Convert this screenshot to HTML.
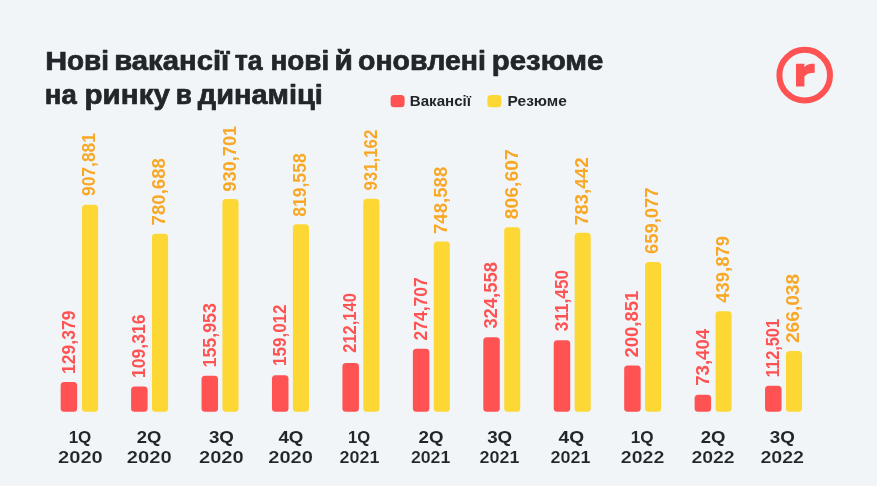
<!DOCTYPE html>
<html lang="uk"><head><meta charset="utf-8"><title>chart</title>
<style>
html,body{margin:0;padding:0;background:#F1F5F8;}
body{width:877px;height:486px;overflow:hidden;}
svg{display:block;font-family:"Liberation Sans",sans-serif;will-change:transform;}
</style></head><body>
<svg width="877" height="486" viewBox="0 0 877 486">
<rect x="0" y="0" width="877" height="486" fill="#F1F5F8"/>
<text id="t1_0" x="45.30" y="69.5" font-size="25.6" font-weight="700" fill="#22262A" stroke="#22262A" stroke-width="0.7" stroke-linejoin="round" textLength="21.90" lengthAdjust="spacingAndGlyphs">Н</text>
<text id="t1_1" x="67.04" y="69.5" font-size="26.9" font-weight="700" fill="#22262A" stroke="#22262A" stroke-width="0.7" stroke-linejoin="round" textLength="41.99" lengthAdjust="spacingAndGlyphs">ові</text>
<text id="t1_2" x="114.22" y="69.5" font-size="26.9" font-weight="700" fill="#22262A" stroke="#22262A" stroke-width="0.7" stroke-linejoin="round" textLength="115.06" lengthAdjust="spacingAndGlyphs">вакансії</text>
<text id="t1_3" x="234.70" y="69.5" font-size="26.9" font-weight="700" fill="#22262A" stroke="#22262A" stroke-width="0.7" stroke-linejoin="round" textLength="27.82" lengthAdjust="spacingAndGlyphs">та</text>
<text id="t1_4" x="270.50" y="69.5" font-size="26.9" font-weight="700" fill="#22262A" stroke="#22262A" stroke-width="0.7" stroke-linejoin="round" textLength="58.65" lengthAdjust="spacingAndGlyphs">нові</text>
<text id="t1_5" x="334.41" y="69.5" font-size="26.9" font-weight="700" fill="#22262A" stroke="#22262A" stroke-width="0.7" stroke-linejoin="round" textLength="18.36" lengthAdjust="spacingAndGlyphs">й</text>
<text id="t1_6" x="357.98" y="69.5" font-size="26.9" font-weight="700" fill="#22262A" stroke="#22262A" stroke-width="0.7" stroke-linejoin="round" textLength="127.91" lengthAdjust="spacingAndGlyphs">оновлені</text>
<text id="t1_7" x="491.72" y="69.5" font-size="26.9" font-weight="700" fill="#22262A" stroke="#22262A" stroke-width="0.7" stroke-linejoin="round" textLength="111.72" lengthAdjust="spacingAndGlyphs">резюме</text>
<text id="t2_0" x="44.88" y="103.7" font-size="26.9" font-weight="700" fill="#22262A" stroke="#22262A" stroke-width="0.7" stroke-linejoin="round" textLength="31.89" lengthAdjust="spacingAndGlyphs">на</text>
<text id="t2_1" x="84.57" y="103.7" font-size="26.9" font-weight="700" fill="#22262A" stroke="#22262A" stroke-width="0.7" stroke-linejoin="round" textLength="85.34" lengthAdjust="spacingAndGlyphs">ринку</text>
<text id="t2_2" x="175.76" y="103.7" font-size="26.9" font-weight="700" fill="#22262A" stroke="#22262A" stroke-width="0.7" stroke-linejoin="round" textLength="16.08" lengthAdjust="spacingAndGlyphs">в</text>
<text id="t2_3" x="197.88" y="103.7" font-size="26.9" font-weight="700" fill="#22262A" stroke="#22262A" stroke-width="0.7" stroke-linejoin="round" textLength="124.94" lengthAdjust="spacingAndGlyphs">динаміці</text>
<text id="lg0" x="409.80" y="106.1" font-size="14.6" font-weight="700" fill="#22262A" textLength="61.28" lengthAdjust="spacingAndGlyphs">Вакансії</text>
<text id="lg1" x="507.63" y="106.1" font-size="14.6" font-weight="700" fill="#22262A" textLength="59.20" lengthAdjust="spacingAndGlyphs">Резюме</text>
<text id="q0" x="68.66" y="442.6" font-size="15.7" font-weight="700" fill="#22262A" textLength="22.61" lengthAdjust="spacingAndGlyphs">1Q</text>
<text id="yr0" x="58.02" y="462.7" font-size="15.7" font-weight="700" fill="#22262A" stroke="#F1F5F8" stroke-width="0.12" stroke-linejoin="round" textLength="44.76" lengthAdjust="spacingAndGlyphs">2020</text>
<text id="q1" x="136.86" y="442.6" font-size="15.7" font-weight="700" fill="#22262A" textLength="24.56" lengthAdjust="spacingAndGlyphs">2Q</text>
<text id="yr1" x="126.78" y="462.7" font-size="15.7" font-weight="700" fill="#22262A" stroke="#F1F5F8" stroke-width="0.12" stroke-linejoin="round" textLength="44.93" lengthAdjust="spacingAndGlyphs">2020</text>
<text id="q2" x="208.94" y="442.6" font-size="15.7" font-weight="700" fill="#22262A" textLength="25.00" lengthAdjust="spacingAndGlyphs">3Q</text>
<text id="yr2" x="198.98" y="462.7" font-size="15.7" font-weight="700" fill="#22262A" stroke="#F1F5F8" stroke-width="0.12" stroke-linejoin="round" textLength="44.72" lengthAdjust="spacingAndGlyphs">2020</text>
<text id="q3" x="278.45" y="442.6" font-size="15.7" font-weight="700" fill="#22262A" textLength="25.01" lengthAdjust="spacingAndGlyphs">4Q</text>
<text id="yr3" x="268.21" y="462.7" font-size="15.7" font-weight="700" fill="#22262A" stroke="#F1F5F8" stroke-width="0.12" stroke-linejoin="round" textLength="44.73" lengthAdjust="spacingAndGlyphs">2020</text>
<text id="q4" x="348.11" y="442.6" font-size="15.7" font-weight="700" fill="#22262A" textLength="22.18" lengthAdjust="spacingAndGlyphs">1Q</text>
<text id="yr4" x="339.50" y="462.7" font-size="15.7" font-weight="700" fill="#22262A" stroke="#F1F5F8" stroke-width="0.12" stroke-linejoin="round" textLength="39.94" lengthAdjust="spacingAndGlyphs">2021</text>
<text id="q5" x="418.64" y="442.6" font-size="15.7" font-weight="700" fill="#22262A" textLength="24.87" lengthAdjust="spacingAndGlyphs">2Q</text>
<text id="yr5" x="410.90" y="462.7" font-size="15.7" font-weight="700" fill="#22262A" stroke="#F1F5F8" stroke-width="0.12" stroke-linejoin="round" textLength="39.45" lengthAdjust="spacingAndGlyphs">2021</text>
<text id="q6" x="487.16" y="442.6" font-size="15.7" font-weight="700" fill="#22262A" textLength="25.00" lengthAdjust="spacingAndGlyphs">3Q</text>
<text id="yr6" x="479.50" y="462.7" font-size="15.7" font-weight="700" fill="#22262A" stroke="#F1F5F8" stroke-width="0.12" stroke-linejoin="round" textLength="39.94" lengthAdjust="spacingAndGlyphs">2021</text>
<text id="q7" x="558.49" y="442.6" font-size="15.7" font-weight="700" fill="#22262A" textLength="25.54" lengthAdjust="spacingAndGlyphs">4Q</text>
<text id="yr7" x="550.50" y="462.7" font-size="15.7" font-weight="700" fill="#22262A" stroke="#F1F5F8" stroke-width="0.12" stroke-linejoin="round" textLength="39.94" lengthAdjust="spacingAndGlyphs">2021</text>
<text id="q8" x="630.70" y="442.6" font-size="15.7" font-weight="700" fill="#22262A" textLength="22.82" lengthAdjust="spacingAndGlyphs">1Q</text>
<text id="yr8" x="620.81" y="462.7" font-size="15.7" font-weight="700" fill="#22262A" stroke="#F1F5F8" stroke-width="0.12" stroke-linejoin="round" textLength="43.51" lengthAdjust="spacingAndGlyphs">2022</text>
<text id="q9" x="700.72" y="442.6" font-size="15.7" font-weight="700" fill="#22262A" textLength="24.77" lengthAdjust="spacingAndGlyphs">2Q</text>
<text id="yr9" x="691.42" y="462.7" font-size="15.7" font-weight="700" fill="#22262A" stroke="#F1F5F8" stroke-width="0.12" stroke-linejoin="round" textLength="43.28" lengthAdjust="spacingAndGlyphs">2022</text>
<text id="q10" x="769.71" y="442.6" font-size="15.7" font-weight="700" fill="#22262A" textLength="25.08" lengthAdjust="spacingAndGlyphs">3Q</text>
<text id="yr10" x="760.42" y="462.7" font-size="15.7" font-weight="700" fill="#22262A" stroke="#F1F5F8" stroke-width="0.12" stroke-linejoin="round" textLength="43.59" lengthAdjust="spacingAndGlyphs">2022</text>
<rect x="390.6" y="95" width="14" height="12.2" rx="3.5" fill="#FF5252"/>
<rect x="487.4" y="95" width="14" height="12.2" rx="3.5" fill="#FDD835"/>
<circle cx="804.7" cy="75.15" r="25.3" fill="none" stroke="#FF5252" stroke-width="6"/>
<path d="M796,63.8 H804.4 V67.2 C806,65 809,63.8 812,63.8 H814.7 V72.7 C810.5,72.9 806.5,73.2 804.4,76.8 V86.5 H796 Z" fill="#FF5252"/>
<rect x="60.65" y="381.91" width="16.5" height="29.89" rx="3.5" fill="#FF5252"/>
<rect x="82.00" y="204.67" width="16.1" height="207.13" rx="3.5" fill="#FDD835"/>
<text transform="translate(74.65,374.00) rotate(-90)" font-size="17.5" font-weight="700" fill="#FF5252" id="r0" textLength="63.47" lengthAdjust="spacingAndGlyphs">129,379</text>
<text transform="translate(95.40,196.00) rotate(-90)" font-size="17.5" font-weight="700" fill="#F9A825" id="y0" textLength="62.96" lengthAdjust="spacingAndGlyphs">907,881</text>
<rect x="131.09" y="386.50" width="16.5" height="25.30" rx="3.5" fill="#FF5252"/>
<rect x="151.99" y="233.66" width="16.1" height="178.14" rx="3.5" fill="#FDD835"/>
<text transform="translate(145.09,378.00) rotate(-90)" font-size="17.5" font-weight="700" fill="#FF5252" id="r1" textLength="63.57" lengthAdjust="spacingAndGlyphs">109,316</text>
<text transform="translate(165.39,225.45) rotate(-90)" font-size="17.5" font-weight="700" fill="#F9A825" id="y1" textLength="67.35" lengthAdjust="spacingAndGlyphs">780,688</text>
<rect x="201.53" y="375.83" width="16.5" height="35.97" rx="3.5" fill="#FF5252"/>
<rect x="222.43" y="198.95" width="16.1" height="212.85" rx="3.5" fill="#FDD835"/>
<text transform="translate(215.53,367.42) rotate(-90)" font-size="17.5" font-weight="700" fill="#FF5252" id="r2" textLength="64.30" lengthAdjust="spacingAndGlyphs">155,953</text>
<text transform="translate(235.83,191.63) rotate(-90)" font-size="17.5" font-weight="700" fill="#F9A825" id="y2" textLength="65.82" lengthAdjust="spacingAndGlyphs">930,701</text>
<rect x="271.97" y="375.13" width="16.5" height="36.67" rx="3.5" fill="#FF5252"/>
<rect x="292.87" y="224.37" width="16.1" height="187.43" rx="3.5" fill="#FDD835"/>
<text transform="translate(285.97,365.99) rotate(-90)" font-size="17.5" font-weight="700" fill="#FF5252" id="r3" textLength="61.53" lengthAdjust="spacingAndGlyphs">159,012</text>
<text transform="translate(306.27,216.80) rotate(-90)" font-size="17.5" font-weight="700" fill="#F9A825" id="y3" textLength="63.47" lengthAdjust="spacingAndGlyphs">819,558</text>
<rect x="342.41" y="362.98" width="16.5" height="48.82" rx="3.5" fill="#FF5252"/>
<rect x="363.31" y="198.84" width="16.1" height="212.96" rx="3.5" fill="#FDD835"/>
<text transform="translate(356.41,352.81) rotate(-90)" font-size="17.5" font-weight="700" fill="#FF5252" id="r4" textLength="59.75" lengthAdjust="spacingAndGlyphs">212,140</text>
<text transform="translate(376.71,190.59) rotate(-90)" font-size="17.5" font-weight="700" fill="#F9A825" id="y4" textLength="60.92" lengthAdjust="spacingAndGlyphs">931,162</text>
<rect x="412.85" y="348.67" width="16.5" height="63.13" rx="3.5" fill="#FF5252"/>
<rect x="433.75" y="241.40" width="16.1" height="170.40" rx="3.5" fill="#FDD835"/>
<text transform="translate(426.85,340.60) rotate(-90)" font-size="17.5" font-weight="700" fill="#FF5252" id="r5" textLength="63.47" lengthAdjust="spacingAndGlyphs">274,707</text>
<text transform="translate(447.15,234.03) rotate(-90)" font-size="17.5" font-weight="700" fill="#F9A825" id="y5" textLength="67.35" lengthAdjust="spacingAndGlyphs">748,588</text>
<rect x="483.29" y="337.27" width="16.5" height="74.53" rx="3.5" fill="#FF5252"/>
<rect x="504.19" y="227.33" width="16.1" height="184.47" rx="3.5" fill="#FDD835"/>
<text transform="translate(497.29,328.62) rotate(-90)" font-size="17.5" font-weight="700" fill="#FF5252" id="r6" textLength="66.58" lengthAdjust="spacingAndGlyphs">324,558</text>
<text transform="translate(517.59,219.26) rotate(-90)" font-size="17.5" font-weight="700" fill="#F9A825" id="y6" textLength="70.00" lengthAdjust="spacingAndGlyphs">806,607</text>
<rect x="553.73" y="340.27" width="16.5" height="71.53" rx="3.5" fill="#FF5252"/>
<rect x="574.63" y="232.63" width="16.1" height="179.17" rx="3.5" fill="#FDD835"/>
<text transform="translate(567.73,331.20) rotate(-90)" font-size="17.5" font-weight="700" fill="#FF5252" id="r7" textLength="61.29" lengthAdjust="spacingAndGlyphs">311,450</text>
<text transform="translate(588.03,225.28) rotate(-90)" font-size="17.5" font-weight="700" fill="#F9A825" id="y7" textLength="67.86" lengthAdjust="spacingAndGlyphs">783,442</text>
<rect x="624.17" y="365.57" width="16.5" height="46.23" rx="3.5" fill="#FF5252"/>
<rect x="645.07" y="261.97" width="16.1" height="149.83" rx="3.5" fill="#FDD835"/>
<text transform="translate(638.17,357.44) rotate(-90)" font-size="17.5" font-weight="700" fill="#FF5252" id="r8" textLength="66.63" lengthAdjust="spacingAndGlyphs">200,851</text>
<text transform="translate(658.47,254.05) rotate(-90)" font-size="17.5" font-weight="700" fill="#F9A825" id="y8" textLength="66.63" lengthAdjust="spacingAndGlyphs">659,077</text>
<rect x="694.61" y="394.71" width="16.5" height="17.09" rx="3.5" fill="#FF5252"/>
<rect x="715.51" y="311.20" width="16.1" height="100.60" rx="3.5" fill="#FDD835"/>
<text transform="translate(708.61,385.83) rotate(-90)" font-size="17.5" font-weight="700" fill="#FF5252" id="r9" textLength="57.07" lengthAdjust="spacingAndGlyphs">73,404</text>
<text transform="translate(728.91,302.79) rotate(-90)" font-size="17.5" font-weight="700" fill="#F9A825" id="y9" textLength="66.88" lengthAdjust="spacingAndGlyphs">439,879</text>
<rect x="765.05" y="385.77" width="16.5" height="26.03" rx="3.5" fill="#FF5252"/>
<rect x="785.95" y="350.96" width="16.1" height="60.84" rx="3.5" fill="#FDD835"/>
<text transform="translate(779.05,377.16) rotate(-90)" font-size="17.5" font-weight="700" fill="#FF5252" id="r10" textLength="58.21" lengthAdjust="spacingAndGlyphs">112,501</text>
<text transform="translate(799.35,343.05) rotate(-90)" font-size="17.5" font-weight="700" fill="#F9A825" id="y10" textLength="69.18" lengthAdjust="spacingAndGlyphs">266,038</text>
</svg>
</body></html>
